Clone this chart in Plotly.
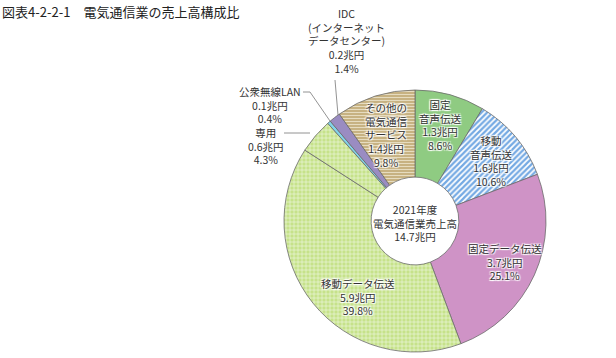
import plotly.graph_objects as go

# ---- data ----
categories = ["固定音声伝送", "移動音声伝送", "固定データ伝送", "移動データ伝送",
              "専用", "公衆無線LAN", "IDC（インターネットデータセンター）",
              "その他の電気通信サービス"]
label_lines = ["固定<br>音声伝送", "移動<br>音声伝送", "固定データ伝送", "移動データ伝送",
               "専用", "公衆無線LAN", "IDC<br>(インターネット<br>データセンター)",
               "その他の<br>電気通信<br>サービス"]
sales_trillion_yen = [1.3, 1.6, 3.7, 5.9, 0.6, 0.1, 0.2, 1.4]
share_pct = [8.6, 10.6, 25.1, 39.8, 4.3, 0.4, 1.4, 9.8]
total_label = "2021年度<br>電気通信業売上高<br>14.7兆円"
title_text = "図表4-2-2-1　電気通信業の売上高構成比"

# ---- styles ----
W, H = 616, 358
bg_colors = ["#8fcb82", "#ffffff", "#cf93c6", "#c6e28a", "#c6e28a", "#82d4ea", "#9a8cc2", "#c7b282"]
fg_colors = ["#8fcb82", "#74a9e3", "#cf93c6", "#f4faea", "#f4faea", "#82d4ea", "#9a8cc2", "#e6dcc0"]
shapes_pat = ["", "/", "", "+", "+", "", "", "-"]
sizes_pat = [4, 4, 4, 4, 4, 4, 4, 3]
solid_pat = [0.3, 0.55, 0.3, 0.25, 0.25, 0.3, 0.3, 0.35]

def px(x):
    return x / W

def py(y):
    return 1 - y / H

fig = go.Figure(go.Pie(
    labels=categories,
    values=share_pct,
    sort=False,
    direction="clockwise",
    rotation=0,
    hole=0.335,
    textinfo="none",
    hoverinfo="label+percent",
    marker=dict(
        colors=bg_colors,
        line=dict(color="#6b6b6b", width=0.8),
        pattern=dict(shape=shapes_pat, fgcolor=fg_colors, bgcolor=bg_colors,
                     size=sizes_pat, solidity=solid_pat, fillmode="replace"),
    ),
    domain=dict(x=[px(284), px(546)], y=[py(352), py(90)]),
    showlegend=False,
))

halo = "1px 1px 1px white, -1px -1px 1px white, 1px -1px 1px white, -1px 1px 1px white"
label_pos = [(440, 125), (491, 161), (505, 262), (358, 297),
             (266, 146), (270, 105), (346, 41), (386, 135)]
annotations = []
for name, val, pct, (x, y) in zip(label_lines, sales_trillion_yen, share_pct, label_pos):
    annotations.append(dict(
        x=px(x), y=py(y), xref="paper", yref="paper", showarrow=False,
        text=f"{name}<br>{val}兆円<br>{pct}%",
        font=dict(family="Noto Sans CJK JP", size=10.5, color="#333333", shadow=halo),
        align="center", xanchor="center", yanchor="middle",
    ))
annotations.append(dict(
    x=px(415), y=py(223), xref="paper", yref="paper", showarrow=False,
    text=total_label, font=dict(family="Noto Sans CJK JP", size=10.5, color="#333333"),
    align="center", xanchor="center", yanchor="middle",
))
annotations.append(dict(
    x=px(0), y=py(11), xref="paper", yref="paper", showarrow=False,
    text=title_text, font=dict(family="Noto Sans CJK JP", size=13, color="#222222"),
    xanchor="left", yanchor="middle",
))

leader = dict(color="#777777", width=0.8)
shapes = [
    dict(type="path", xref="paper", yref="paper", line=leader,
         path=f"M {px(335)} {py(80)} L {px(338)} {py(115)}"),
    dict(type="path", xref="paper", yref="paper", line=leader,
         path=f"M {px(303)} {py(92)} L {px(310)} {py(92)} L {px(330)} {py(121)}"),
    dict(type="path", xref="paper", yref="paper", line=leader,
         path=f"M {px(284)} {py(133)} L {px(310)} {py(133)}"),
]

fig.update_layout(
    width=W, height=H,
    margin=dict(l=0, r=0, t=0, b=0),
    paper_bgcolor="white", plot_bgcolor="white",
    annotations=annotations, shapes=shapes,
)
fig.write_html("out.html", config={"displayModeBar": False},
               post_script="document.body.style.margin='0';")
